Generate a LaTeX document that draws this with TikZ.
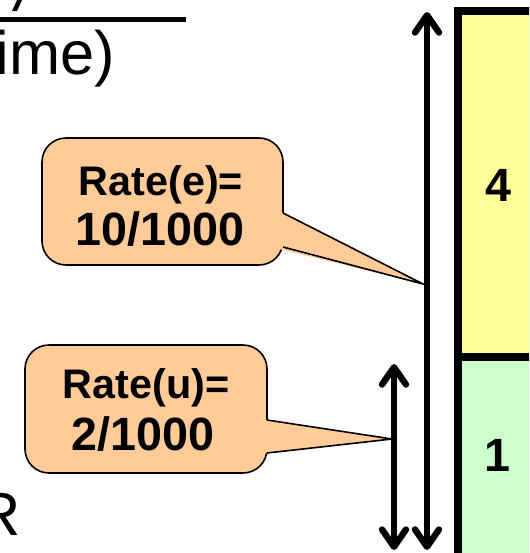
\documentclass[tikz,border=0pt]{standalone}
\usepackage{fontspec}
\setmainfont{Liberation Sans}
\usetikzlibrary{arrows.meta}
\definecolor{calloutfill}{RGB}{255,204,153}
\definecolor{baryellow}{RGB}{255,255,153}
\definecolor{bargreen}{RGB}{204,255,204}
\begin{document}
\begin{tikzpicture}[x=0.75pt,y=-0.75pt,
  txt/.style={inner sep=0pt,outer sep=0pt},
  calltexta/.style={txt,anchor=base,font=\bfseries\fontsize{31}{36}\selectfont},
  calltextb/.style={txt,anchor=base,font=\bfseries\fontsize{35}{40}\selectfont},
  barnum/.style={txt,font=\bfseries\fontsize{35}{40}\selectfont},
  slidetext/.style={txt,font=\fontsize{46}{52}\selectfont},
  calloutbox/.style={draw=black,line width=1.2pt,fill=calloutfill,rounded corners=18pt},
  callouttip/.style={draw=black,line width=1.2pt,line join=miter},
  dimarrow/.style={line width=4.8pt,
    {Straight Barb[length=13pt,width=18pt,round]}-{Straight Barb[length=13pt,width=18pt,round]}},
  barborder/.style={line width=6pt},
]
\useasboundingbox (0,0) rectangle (529,553);
\clip (0,0) rectangle (529,553);

% fragments of slide text
\fill (12,11) -- (17,11) -- (23,-2) -- (18,-2) -- cycle;
\draw[line width=3.75pt] (-5,19.5) -- (186,19.5);
\node[slidetext,anchor=base west] (ime) at (-4,74) {ime)};
\node[slidetext,anchor=base east] (r) at (21,535) {R};

% bar column
\fill[baryellow] (457.5,11) rectangle (600,357);
\fill[bargreen] (457.5,357) rectangle (600,600);
\draw[barborder] (600,11) -- (457.5,11) -- (457.5,600);
\draw[barborder] (457.5,357) -- (600,357);
\node[barnum] (four) at (498,185) {4};
\node[barnum] (one) at (497,455) {1};

% double arrows
\coordinate (Ltop) at (427,12);
\coordinate (Lbot) at (427,550);
\coordinate (Stop) at (394,364);
\coordinate (Sbot) at (394,550);
\draw[dimarrow] (Ltop) -- (Lbot);
\draw[dimarrow] (Stop) -- (Sbot);

% callout e
\coordinate (etip) at (423,284);
\draw[calloutbox] (42,138) rectangle (283,265);
\fill[calloutfill] (279,211) -- (etip) -- (279,249) -- cycle;
\draw[callouttip] (283,213) -- (etip) -- (283,247);
\node[calltexta] (e1) at (161,195) {Rate(e)=};
\node[calltextb] (e2) at (160,245) {10/1000};

% callout u
\coordinate (utip) at (392,439);
\draw[calloutbox] (25,345) rectangle (267,473);
\fill[calloutfill] (263,419.4) -- (utip) -- (263,453.4) -- cycle;
\draw[callouttip] (267,420) -- (utip) -- (267,453);
\node[calltexta] (u1) at (146,398) {Rate(u)=};
\node[calltextb] (u2) at (143,450) {2/1000};
\end{tikzpicture}
\end{document}
